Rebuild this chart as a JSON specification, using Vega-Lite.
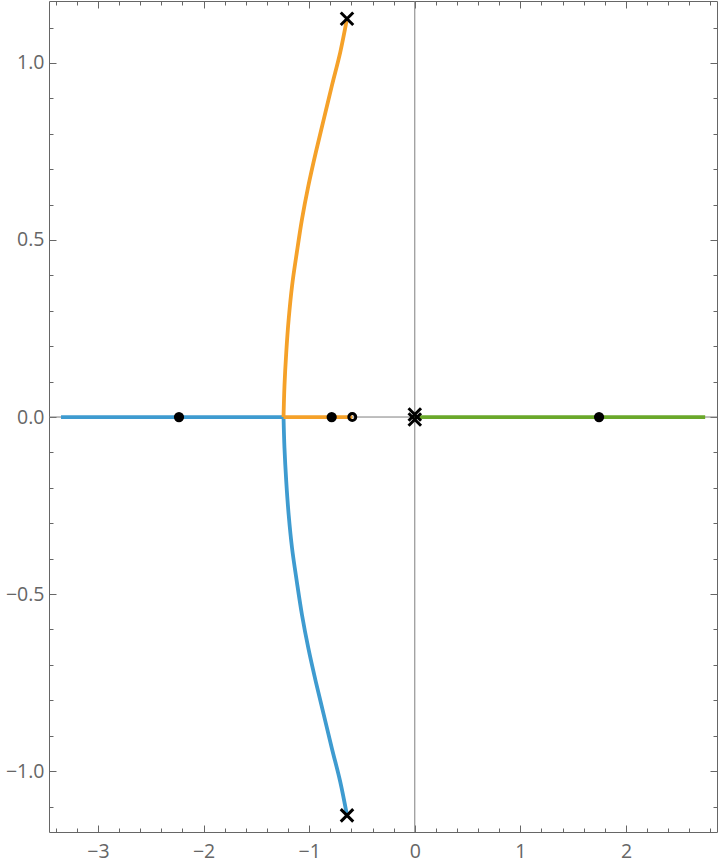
{
  "$schema": "https://vega.github.io/schema/vega-lite/v6.json",
  "width": 668,
  "height": 831,
  "autosize": {"type": "none"},
  "padding": {"left": 49, "top": 1, "right": 3, "bottom": 32},
  "background": "white",
  "config": {
    "view": {"stroke": null},
    "axis": {
      "grid": false,
      "title": null,
      "domainColor": "#666666",
      "domainWidth": 1,
      "tickColor": "#666666",
      "tickWidth": 1,
      "labelColor": "#666666",
      "labelFont": "Open Sans",
      "labelFontSize": 19.5,
      "labelOverlap": false,
      "labelFlush": false,
      "labelBound": false
    }
  },
  "datasets": {
    "curves": [
      {"b": "blue", "s": "bc", "i": 0, "x": -0.642, "y": -1.125},
      {"b": "blue", "s": "bc", "i": 1, "x": -0.706, "y": -1.03},
      {"b": "blue", "s": "bc", "i": 2, "x": -0.785, "y": -0.936},
      {"b": "blue", "s": "bc", "i": 3, "x": -0.861, "y": -0.842},
      {"b": "blue", "s": "bc", "i": 4, "x": -0.937, "y": -0.748},
      {"b": "blue", "s": "bc", "i": 5, "x": -1.008, "y": -0.653},
      {"b": "blue", "s": "bc", "i": 6, "x": -1.068, "y": -0.559},
      {"b": "blue", "s": "bc", "i": 7, "x": -1.117, "y": -0.465},
      {"b": "blue", "s": "bc", "i": 8, "x": -1.162, "y": -0.371},
      {"b": "blue", "s": "bc", "i": 9, "x": -1.194, "y": -0.277},
      {"b": "blue", "s": "bc", "i": 10, "x": -1.217, "y": -0.183},
      {"b": "blue", "s": "bc", "i": 11, "x": -1.234, "y": -0.088},
      {"b": "blue", "s": "bc", "i": 12, "x": -1.243, "y": 0},
      {"b": "blue", "s": "bh", "i": 0, "x": -1.243, "y": 0},
      {"b": "blue", "s": "bh", "i": 1, "x": -3.35, "y": 0},
      {"b": "orange", "s": "oc", "i": 0, "x": -0.642, "y": 1.125},
      {"b": "orange", "s": "oc", "i": 1, "x": -0.706, "y": 1.03},
      {"b": "orange", "s": "oc", "i": 2, "x": -0.785, "y": 0.936},
      {"b": "orange", "s": "oc", "i": 3, "x": -0.861, "y": 0.842},
      {"b": "orange", "s": "oc", "i": 4, "x": -0.937, "y": 0.748},
      {"b": "orange", "s": "oc", "i": 5, "x": -1.008, "y": 0.653},
      {"b": "orange", "s": "oc", "i": 6, "x": -1.068, "y": 0.559},
      {"b": "orange", "s": "oc", "i": 7, "x": -1.117, "y": 0.465},
      {"b": "orange", "s": "oc", "i": 8, "x": -1.162, "y": 0.371},
      {"b": "orange", "s": "oc", "i": 9, "x": -1.194, "y": 0.277},
      {"b": "orange", "s": "oc", "i": 10, "x": -1.217, "y": 0.183},
      {"b": "orange", "s": "oc", "i": 11, "x": -1.234, "y": 0.088},
      {"b": "orange", "s": "oc", "i": 12, "x": -1.243, "y": 0},
      {"b": "orange", "s": "oh", "i": 0, "x": -1.243, "y": 0},
      {"b": "orange", "s": "oh", "i": 1, "x": -0.592, "y": 0},
      {"b": "green", "s": "gh", "i": 0, "x": 0, "y": 0},
      {"b": "green", "s": "gh", "i": 1, "x": 2.75, "y": 0}
    ],
    "poles": [
      {"x": -0.642, "y": 1.125},
      {"x": -0.642, "y": -1.125},
      {"x": 0, "y": 0.007},
      {"x": 0, "y": -0.007}
    ],
    "zeros": [
      {"x": -2.233, "y": 0},
      {"x": -0.787, "y": 0},
      {"x": 1.745, "y": 0}
    ],
    "rings": [
      {"x": -0.592, "y": 0}
    ],
    "origin": [
      {"x": 0, "y": 0}
    ]
  },
  "resolve": {"axis": {"x": "independent", "y": "independent"}},
  "layer": [
    {
      "data": {"name": "origin"},
      "mark": {"type": "rule", "color": "#7f7f7f", "strokeWidth": 1},
      "encoding": {
        "x": {"field": "x", "type": "quantitative", "axis": null, "scale": {"domain": [-3.464, 2.862], "nice": false, "zero": false}}
      }
    },
    {
      "data": {"name": "origin"},
      "mark": {"type": "rule", "color": "#7f7f7f", "strokeWidth": 1},
      "encoding": {
        "y": {"field": "y", "type": "quantitative", "axis": null, "scale": {"domain": [-1.172, 1.175], "nice": false, "zero": false}}
      }
    },
    {
      "data": {"name": "curves"},
      "mark": {"type": "line", "strokeWidth": 3.8, "interpolate": "catmull-rom", "strokeCap": "butt"},
      "encoding": {
        "x": {
          "field": "x", "type": "quantitative",
          "scale": {"domain": [-3.464, 2.862], "nice": false, "zero": false},
          "axis": {
            "orient": "bottom",
            "values": [-3.4, -3.2, -3, -2.8, -2.6, -2.4, -2.2, -2, -1.8, -1.6, -1.4, -1.2, -1, -0.8, -0.6, -0.4, -0.2, 0, 0.2, 0.4, 0.6, 0.8, 1, 1.2, 1.4, 1.6, 1.8, 2, 2.2, 2.4, 2.6, 2.8],
            "tickSize": {"condition": {"test": "abs(datum.value - round(datum.value)) < 1e-6", "value": -7}, "value": -4},
            "labelPadding": 17,
            "labelExpr": "abs(datum.value - round(datum.value)) < 1e-6 ? format(datum.value, '.0f') : ''"
          }
        },
        "y": {
          "field": "y", "type": "quantitative",
          "scale": {"domain": [-1.172, 1.175], "nice": false, "zero": false},
          "axis": {
            "orient": "left",
            "values": [-1.1, -1, -0.9, -0.8, -0.7, -0.6, -0.5, -0.4, -0.3, -0.2, -0.1, 0, 0.1, 0.2, 0.3, 0.4, 0.5, 0.6, 0.7, 0.8, 0.9, 1, 1.1],
            "tickSize": {"condition": {"test": "abs(datum.value * 2 - round(datum.value * 2)) < 1e-6", "value": -7}, "value": -4},
            "labelPadding": 12,
            "labelExpr": "abs(datum.value * 2 - round(datum.value * 2)) < 1e-6 ? format(datum.value, '.1f') : ''"
          }
        },
        "color": {
          "field": "b", "type": "nominal", "legend": null,
          "scale": {"domain": ["blue", "orange", "green"], "range": ["#3e9bd0", "#f5a129", "#6aa82b"]}
        },
        "detail": {"field": "s"},
        "order": {"field": "i", "type": "quantitative"}
      }
    },
    {
      "data": {"name": "zeros"},
      "mark": {"type": "point", "shape": "circle", "filled": true, "color": "black", "opacity": 1, "size": 105},
      "encoding": {
        "x": {"field": "x", "type": "quantitative", "axis": null, "scale": {"domain": [-3.464, 2.862], "nice": false, "zero": false}},
        "y": {"field": "y", "type": "quantitative", "axis": null, "scale": {"domain": [-1.172, 1.175], "nice": false, "zero": false}}
      }
    },
    {
      "data": {"name": "rings"},
      "mark": {"type": "point", "shape": "circle", "filled": false, "color": "black", "opacity": 1, "strokeWidth": 3, "size": 48},
      "encoding": {
        "x": {"field": "x", "type": "quantitative", "axis": null, "scale": {"domain": [-3.464, 2.862], "nice": false, "zero": false}},
        "y": {"field": "y", "type": "quantitative", "axis": null, "scale": {"domain": [-1.172, 1.175], "nice": false, "zero": false}}
      }
    },
    {
      "data": {"name": "poles"},
      "mark": {"type": "point", "shape": "M-1,-1L1,1M-1,1L1,-1", "filled": false, "color": "black", "opacity": 1, "strokeWidth": 3, "size": 156},
      "encoding": {
        "x": {
          "field": "x", "type": "quantitative",
          "scale": {"domain": [-3.464, 2.862], "nice": false, "zero": false},
          "axis": {
            "orient": "top",
            "values": [-3.4, -3.2, -3, -2.8, -2.6, -2.4, -2.2, -2, -1.8, -1.6, -1.4, -1.2, -1, -0.8, -0.6, -0.4, -0.2, 0, 0.2, 0.4, 0.6, 0.8, 1, 1.2, 1.4, 1.6, 1.8, 2, 2.2, 2.4, 2.6, 2.8],
            "tickSize": {"condition": {"test": "abs(datum.value - round(datum.value)) < 1e-6", "value": -7}, "value": -4},
            "labels": false
          }
        },
        "y": {
          "field": "y", "type": "quantitative",
          "scale": {"domain": [-1.172, 1.175], "nice": false, "zero": false},
          "axis": {
            "orient": "right",
            "values": [-1.1, -1, -0.9, -0.8, -0.7, -0.6, -0.5, -0.4, -0.3, -0.2, -0.1, 0, 0.1, 0.2, 0.3, 0.4, 0.5, 0.6, 0.7, 0.8, 0.9, 1, 1.1],
            "tickSize": {"condition": {"test": "abs(datum.value * 2 - round(datum.value * 2)) < 1e-6", "value": -7}, "value": -4},
            "labels": false
          }
        }
      }
    }
  ]
}
